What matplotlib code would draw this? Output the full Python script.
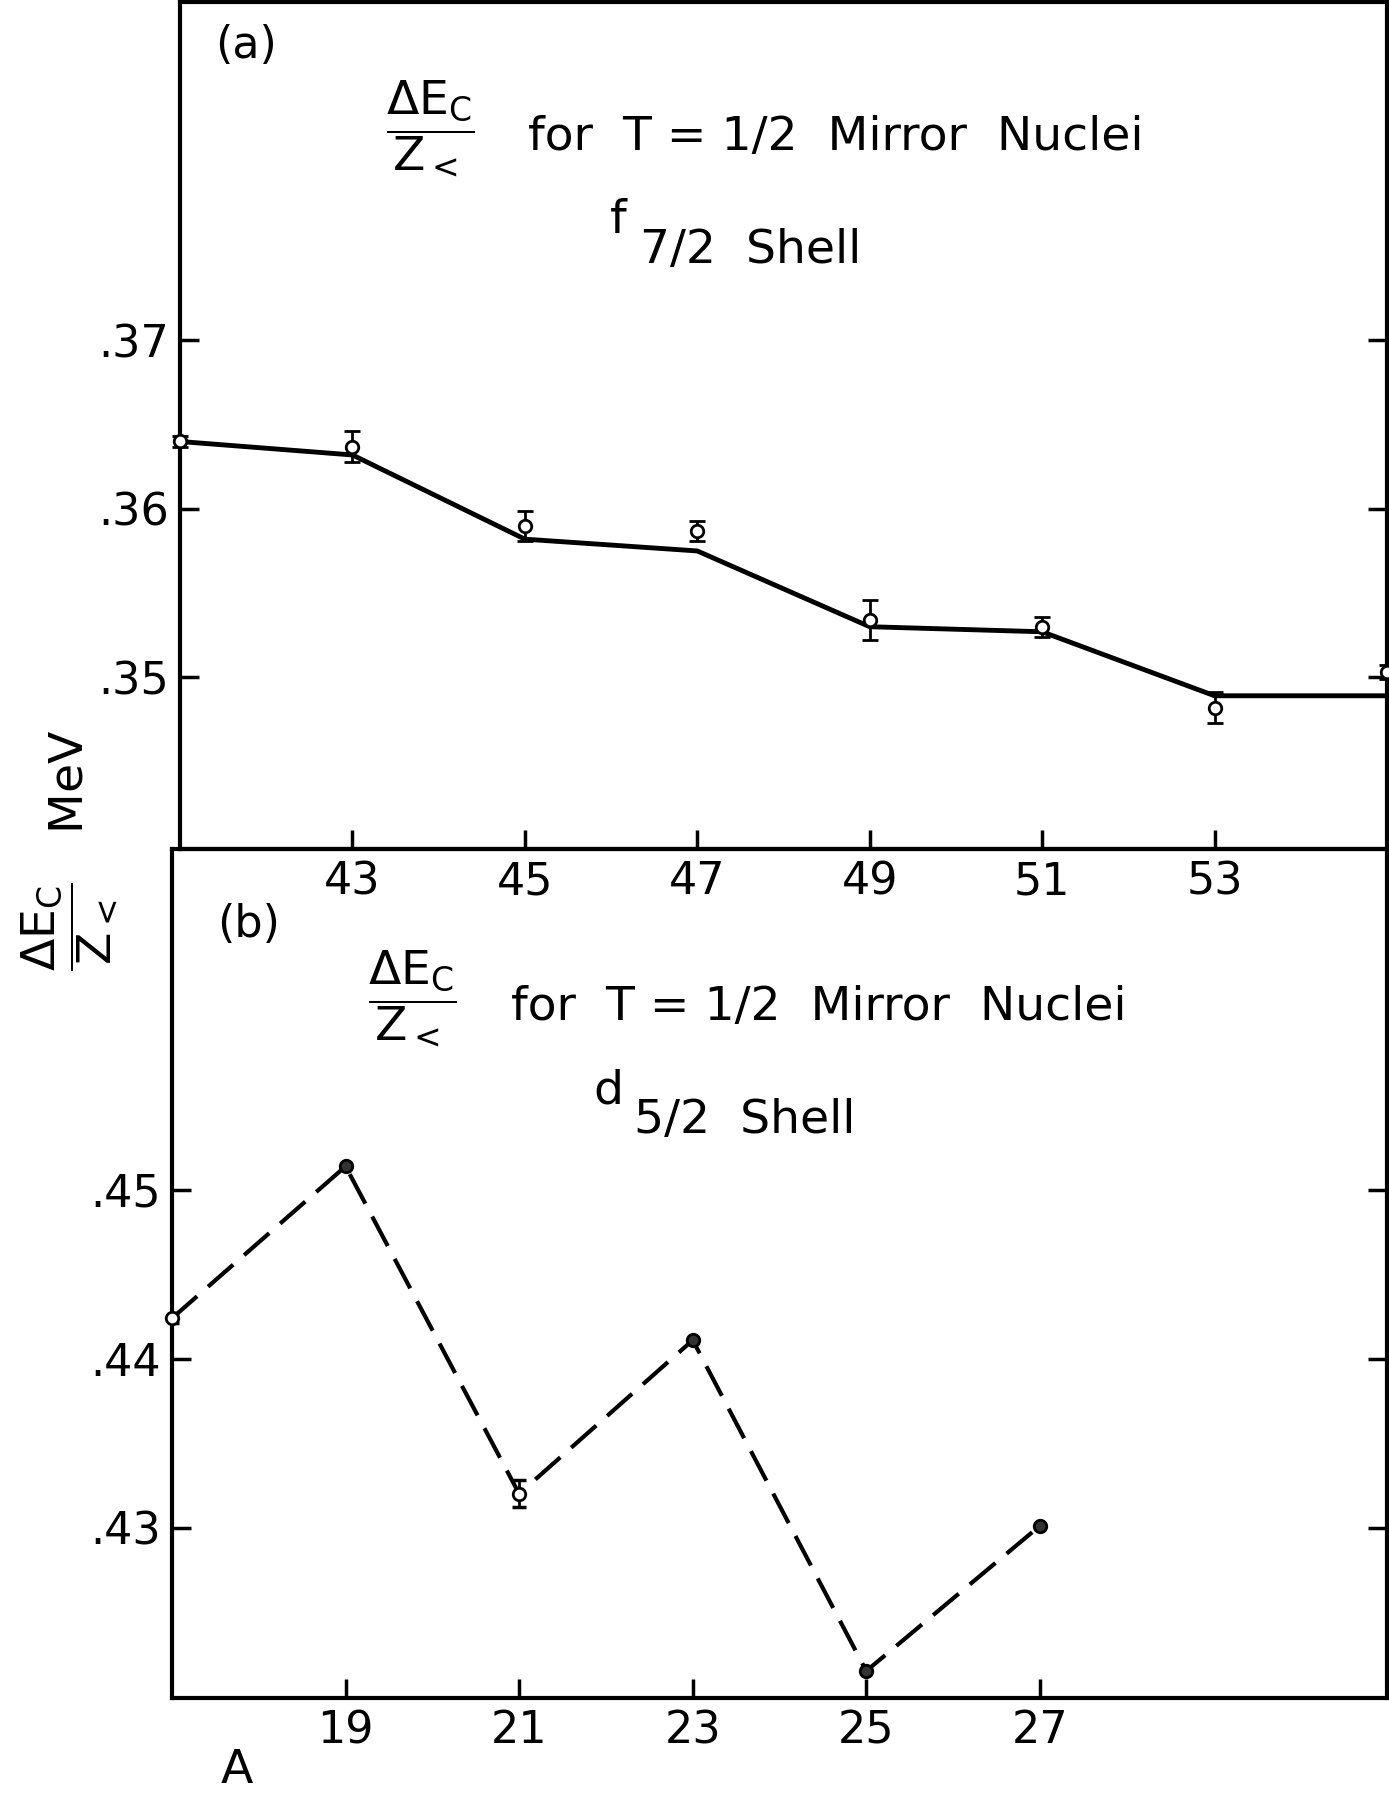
import matplotlib
matplotlib.use("Agg")
import matplotlib.pyplot as plt

# f7/2 shell, T=1/2 mirror nuclei (panel a)
A_f = [41, 43, 45, 47, 49, 51, 53, 55]
dEc_f = [0.3640, 0.3637, 0.3590, 0.3587, 0.3534, 0.3530, 0.3482, 0.3503]
err_f = [0.0003, 0.0009, 0.0009, 0.0006, 0.0012, 0.0006, 0.0009, 0.0004]
line_f = [0.3640, 0.3632, 0.3582, 0.3575, 0.3530, 0.3527, 0.3489, 0.3489]

# d5/2 shell (panel b)
A_d = [17, 19, 21, 23, 25, 27]
dEc_d = [0.4424, 0.4514, 0.4320, 0.4411, 0.4215, 0.4301]
err_d = [0.0003, 0.0, 0.0008, 0.0, 0.0, 0.0]
filled_d = [False, True, False, True, True, True]

xticks_f = [43, 45, 47, 49, 51, 53]
yticks_f = [0.35, 0.36, 0.37]
ylabels_f = [".35", ".36", ".37"]
xticks_d = [19, 21, 23, 25, 27]
yticks_d = [0.43, 0.44, 0.45]
ylabels_d = [".43", ".44", ".45"]

plt.rcParams["mathtext.fontset"] = "dejavusans"
plt.rcParams["mathtext.default"] = "regular"

W, H = 1389, 1794
fig = plt.figure(figsize=(W / 100, H / 100), dpi=100)

def fx(x):
    return x / W

def fy(y):
    return 1 - y / H

ax_b = fig.add_axes([fx(172), fy(1698), fx(1387) - fx(172), fy(849) - fy(1698)])
ax_a = fig.add_axes([fx(180), fy(849), fx(1387) - fx(180), fy(2) - fy(849)])
ax_a.set_facecolor("none")
ax_b.set_facecolor("none")

for ax in (ax_a, ax_b):
    for s in ax.spines.values():
        s.set_linewidth(3)
    ax.tick_params(direction="in", length=14, width=2.5, labelsize=32,
                   right=True, pad=8)

# panel a
ax_a.plot(A_f, line_f, color="black", lw=3.5, clip_on=False, zorder=2)
ax_a.errorbar(A_f, dEc_f, yerr=err_f, fmt="o", ms=9, mfc="white", mec="black",
              mew=2, ecolor="black", elinewidth=2, capsize=6, capthick=2.5,
              clip_on=False, zorder=3)
ax_a.set_xlim(41, 55)
ax_a.set_ylim(0.3398, 0.3901)
ax_a.set_xticks(xticks_f)
ax_a.set_xticklabels([str(v) for v in xticks_f])
ax_a.set_yticks(yticks_f)
ax_a.set_yticklabels(ylabels_f)

# panel b
ax_b.plot(A_d, dEc_d, color="black", lw=3, dashes=(8, 3.5), zorder=2)
for a, v, e, f in zip(A_d, dEc_d, err_d, filled_d):
    if e > 0:
        ax_b.errorbar([a], [v], yerr=[e], fmt="none", ecolor="black",
                      elinewidth=2, capsize=5, capthick=2.5, zorder=3)
    ax_b.plot([a], [v], "o", ms=9, mfc="#333333" if f else "white",
              mec="black", mew=2, clip_on=False, zorder=4)
ax_b.set_xlim(17, 31)
ax_b.set_ylim(0.4199, 0.4702)
ax_b.set_xticks(xticks_d)
ax_b.set_xticklabels([str(v) for v in xticks_d])
ax_b.set_yticks(yticks_d)
ax_b.set_yticklabels(ylabels_d)

frac = r"$\dfrac{\Delta E_C}{Z_<}$"
ts = 34

# panel a annotations
fig.text(fx(215), fy(46), "(a)", fontsize=32, ha="left", va="center")
fig.text(fx(430), fy(128), frac, fontsize=ts, ha="center", va="center")
fig.text(fx(528), fy(150), "for  T = 1/2  Mirror  Nuclei", fontsize=ts,
         ha="left", va="baseline")
fig.text(fx(610), fy(233), "f", fontsize=ts, ha="left", va="baseline")
fig.text(fx(640), fy(263), "7/2  Shell", fontsize=ts, ha="left", va="baseline")

# panel b annotations
fig.text(fx(217), fy(924), "(b)", fontsize=32, ha="left", va="center")
fig.text(fx(412), fy(998), frac, fontsize=ts, ha="center", va="center")
fig.text(fx(511), fy(1020), "for  T = 1/2  Mirror  Nuclei", fontsize=ts,
         ha="left", va="baseline")
fig.text(fx(593), fy(1103), "d", fontsize=ts, ha="left", va="baseline")
fig.text(fx(634), fy(1133), "5/2  Shell", fontsize=ts, ha="left", va="baseline")

# shared axis labels
fig.text(fx(69), fy(850), frac + "   MeV", fontsize=ts, rotation=90,
         ha="center", va="center")
fig.text(fx(237), fy(1770), "A", fontsize=ts, ha="center", va="center")

fig.savefig("out.png", dpi=100)
